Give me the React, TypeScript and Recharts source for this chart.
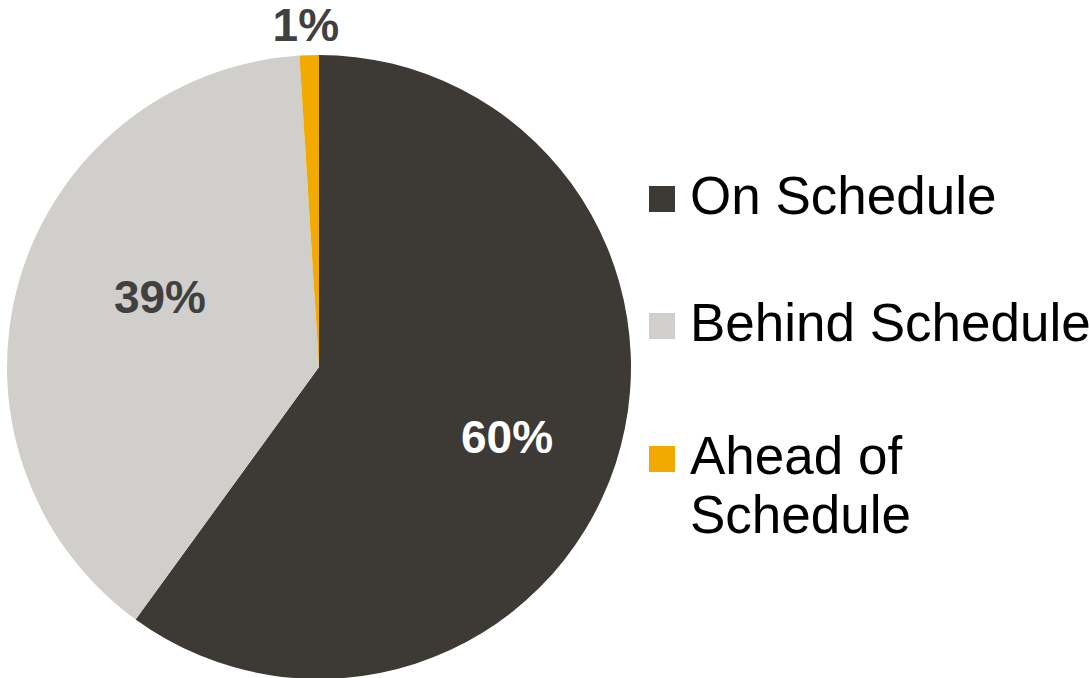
import { PieChart, Pie, Cell, Legend } from 'recharts';

const categories = ['On Schedule', 'Behind Schedule', 'Ahead of Schedule'];
const legendLines = [['On Schedule'], ['Behind Schedule'], ['Ahead of', 'Schedule']];
const values = [60, 39, 1];

const COLORS = ['#3d3935', '#d0cfcb', '#f2a900'];
// label placement: fraction of outer radius, angle nudge (deg), text colour
const LABEL_POS = [0.643, 0.557, 1.097];
const LABEL_NUDGE = [-2.4, -7.6, 0.4];
const LABEL_FILL = ['#ffffff', '#404040', '#404040'];

const data = categories.map((name, i) => ({ name, value: values[i] }));

const RADIAN = Math.PI / 180;

const renderLabel = ({ cx, cy, midAngle, outerRadius, index, value }: any) => {
  const r = outerRadius * LABEL_POS[index];
  const a = (midAngle + LABEL_NUDGE[index]) * RADIAN;
  const x = cx + r * Math.cos(-a);
  const y = cy + r * Math.sin(-a);
  return (
    <text
      x={x}
      y={y}
      fill={LABEL_FILL[index]}
      textAnchor="middle"
      dominantBaseline="central"
      style={{ fontFamily: 'Liberation Sans, Arial, sans-serif', fontSize: 46, fontWeight: 700 }}
    >
      {`${value}%`}
    </text>
  );
};

const renderLegend = () => (
  <div style={{ fontFamily: 'Liberation Sans, Arial, sans-serif', fontSize: 53, lineHeight: '59px', color: '#000' }}>
    {legendLines.map((lines, i) => (
      <div key={i} style={{ display: 'flex', alignItems: 'flex-start', marginTop: i === 0 ? 166 : i === 1 ? 68 : 74 }}>
        <div style={{ width: 26, height: 26, background: COLORS[i], marginTop: 20, marginRight: 15, flexShrink: 0 }} />
        <div style={{ whiteSpace: 'nowrap' }}>
          {lines.map((l, j) => (
            <div key={j}>{l}</div>
          ))}
        </div>
      </div>
    ))}
  </div>
);

export default function App() {
  return (
    <div style={{ position: 'absolute', left: 0, top: 0, background: '#fff' }}>
      <PieChart width={1089} height={678} margin={{ top: 0, right: 0, bottom: 0, left: 0 }}>
        <Pie
          data={data}
          dataKey="value"
          cx={319}
          cy={367}
          outerRadius={312}
          startAngle={90}
          endAngle={-270}
          stroke="none"
          labelLine={false}
          label={renderLabel}
          isAnimationActive={false}
        >
          {data.map((_, i) => (
            <Cell key={i} fill={COLORS[i]} />
          ))}
        </Pie>
        <Legend
          content={renderLegend}
          wrapperStyle={{ position: 'absolute', left: 649, top: 0, width: 440 }}
        />
      </PieChart>
    </div>
  );
}
